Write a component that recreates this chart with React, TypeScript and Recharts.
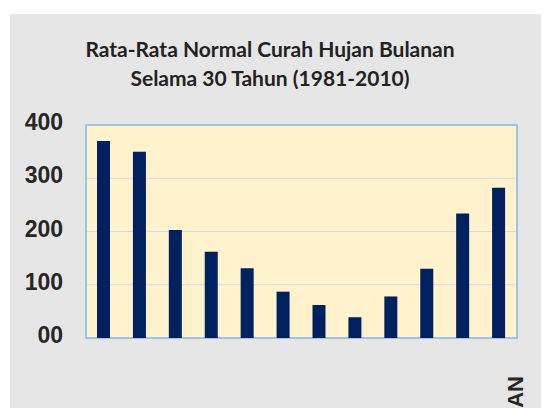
import React from 'react';
import { BarChart, Bar, XAxis, YAxis, CartesianGrid, ReferenceArea } from 'recharts';

const months = ['JANUARI', 'FEBRUARI', 'MARET', 'APRIL', 'MEI', 'JUNI', 'JULI', 'AGUSTUS', 'SEPTEMBER', 'OKTOBER', 'NOVEMBER', 'DESEMBER'];
const rainfall = [370, 350, 203, 162, 131, 87, 62, 39, 78, 130, 234, 282];
const yTicks = [0, 100, 200, 300, 400];
const titleLines = ['Rata-Rata Normal Curah Hujan Bulanan', 'Selama 30 Tahun (1981-2010)'];

const data = months.map((m, i) => ({ month: m, value: rainfall[i] }));

const App: React.FC = () => (
  <div style={{ marginLeft: 2, marginTop: 6, width: 541, height: 394, background: '#E7E6E6', overflow: 'hidden' }}>
    <BarChart width={539} height={394} data={data} margin={{ top: 111, right: 32, left: 0, bottom: 70 }}>
      <CartesianGrid horizontal vertical={false} fill="#FFF2CC" stroke="#D3DBE6" />
      <XAxis dataKey="month" hide />
      <YAxis
        domain={[0, 400]}
        ticks={yTicks}
        width={76}
        axisLine={false}
        tickLine={false}
        tickMargin={17}
        tickFormatter={(v: number) => (v === 0 ? '00' : String(v))}
        tick={{ fill: '#262626', fontSize: 23, fontWeight: 700, fontFamily: 'Liberation Sans', dy: -3 }}
      />
      <Bar dataKey="value" fill="#002060" barSize={13} isAnimationActive={false} />
      <ReferenceArea y1={0} y2={400} fill="none" stroke="#9DC3E6" strokeWidth={2} />
      <text x={260} y={34} textAnchor="middle" dominantBaseline="central" fill="#222" fontSize={21} fontWeight={700} fontFamily="Lato">
        {titleLines[0]}
      </text>
      <text x={260} y={63} textAnchor="middle" dominantBaseline="central" fill="#222" fontSize={21} fontWeight={700} fontFamily="Lato">
        {titleLines[1]}
      </text>
      <text x={513} y={362} transform="rotate(-90, 513, 362)" textAnchor="end" fill="#262626" fontSize={22} fontWeight={700} fontFamily="Liberation Sans">
        BULAN
      </text>
    </BarChart>
  </div>
);

export default App;
